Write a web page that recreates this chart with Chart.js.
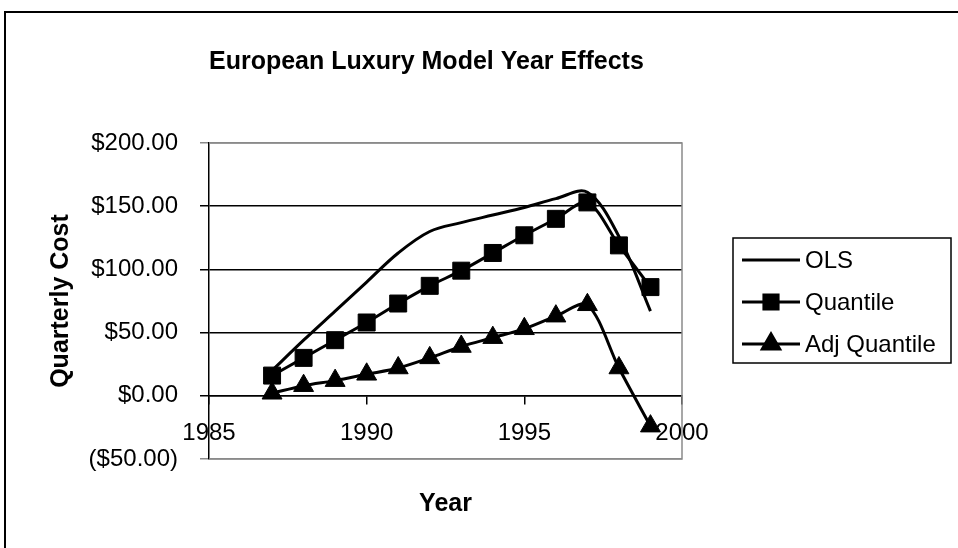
<!DOCTYPE html>
<html>
<head>
<meta charset="utf-8">
<script src="https://cdn.jsdelivr.net/npm/chart.js@4/dist/chart.umd.min.js"></script>
<style>
  html, body { margin: 0; padding: 0; background: #fff; }
  #wrap { width: 958px; height: 548px; }
</style>
</head>
<body>
<div id="wrap"><canvas id="myChart" width="958" height="548"></canvas></div>
<script>
const FONT = "Arial, 'Liberation Sans', sans-serif";

const years = [1987, 1988, 1989, 1990, 1991, 1992, 1993, 1994, 1995, 1996, 1997, 1998, 1999];
const olsCost = [20, 44, 67, 90, 113, 130, 137, 143, 149, 156, 161, 126, 67];
const quantileCost = [16, 30, 44, 58, 73, 87, 99, 113, 127, 140, 153, 119, 86];
const adjQuantileCost = [2, 8, 12, 17, 22, 30, 39, 46, 53, 63, 72, 22, -24];
const yearTicks = [1985, 1990, 1995, 2000];
const costTicks = [-50, 0, 50, 100, 150, 200];

const toPoints = (vals) => vals.map((v, i) => ({ x: years[i], y: v }));

// outer frame + grey plot border
const framePlugin = {
  id: "frame",
  beforeDraw(chart) {
    const c = chart.ctx;
    c.save();
    c.fillStyle = "#fff";
    c.fillRect(0, 0, chart.width, chart.height);
    c.strokeStyle = "#000";
    c.lineWidth = 2;
    c.strokeRect(5, 12, chart.width + 20, chart.height + 20);
    c.restore();
  },
  beforeDatasetsDraw(chart) {
    const a = chart.chartArea;
    const c = chart.ctx;
    c.save();
    c.strokeStyle = "#8a8a8a";
    c.lineWidth = 1.5;
    c.beginPath();
    c.moveTo(a.left, a.top);
    c.lineTo(a.right, a.top);
    c.lineTo(a.right, a.bottom);
    c.lineTo(a.left, a.bottom);
    c.stroke();
    c.restore();
  },
};

// boxed legend with line + marker samples
const boxLegend = {
  id: "boxLegend",
  afterDraw(chart) {
    const c = chart.ctx;
    const x = 733, y = 238, w = 218, h = 125;
    c.save();
    c.strokeStyle = "#000";
    c.lineWidth = 1.5;
    c.strokeRect(x, y, w, h);
    chart.data.datasets.forEach((ds, i) => {
      const cy = 260 + i * 42;
      c.strokeStyle = "#000";
      c.lineWidth = 3;
      c.beginPath();
      c.moveTo(742, cy);
      c.lineTo(800, cy);
      c.stroke();
      if (ds.pointRadius > 0) {
        Chart.helpers.drawPoint(c, { pointStyle: ds.pointStyle, radius: 10, borderWidth: 1 }, 771, cy);
        c.fillStyle = "#000";
        c.fill();
      }
      c.fillStyle = "#000";
      c.font = "24px " + FONT;
      c.textBaseline = "middle";
      c.textAlign = "left";
      c.fillText(ds.label, 805, cy + 1);
    });
    c.restore();
  },
};

const ctx = document.getElementById("myChart");
new Chart(ctx, {
  type: "line",
  data: {
    datasets: [
      {
        label: "OLS",
        data: toPoints(olsCost),
        borderColor: "#000",
        borderWidth: 3,
        pointRadius: 0,
        tension: 0.35,
      },
      {
        label: "Quantile",
        data: toPoints(quantileCost),
        borderColor: "#000",
        backgroundColor: "#000",
        borderWidth: 3,
        pointStyle: "rect",
        pointRadius: 12,
        pointBorderWidth: 1,
        tension: 0.3,
      },
      {
        label: "Adj Quantile",
        data: toPoints(adjQuantileCost),
        borderColor: "#000",
        backgroundColor: "#000",
        borderWidth: 3,
        pointStyle: "triangle",
        pointRadius: 11.5,
        pointBorderWidth: 1,
        tension: 0.3,
      },
    ],
  },
  options: {
    responsive: false,
    animation: false,
    layout: { padding: { left: 41, right: 276, top: 0, bottom: 89 } },
    scales: {
      x: {
        type: "linear",
        position: { y: 0 },
        min: 1985,
        max: 2000,
        afterBuildTicks: (s) => { s.ticks = yearTicks.map((v) => ({ value: v })); },
        ticks: {
          padding: 15,
          color: "#000",
          font: { family: FONT, size: 24 },
          maxRotation: 0,
          callback: (v) => String(v),
        },
        grid: { drawOnChartArea: false, drawTicks: true, tickLength: 8, color: "#000", lineWidth: 1.5 },
        border: { display: true, color: "#000", width: 1.5 },
        title: {
          display: true,
          text: "Year",
          color: "#000",
          font: { family: FONT, size: 25, weight: "bold" },
          padding: { top: 27, bottom: 0 },
        },
      },
      y: {
        min: -50,
        max: 200,
        afterBuildTicks: (s) => { s.ticks = costTicks.map((v) => ({ value: v })); },
        afterFit: (s) => { s.width = 168; },
        ticks: {
          padding: 22,
          color: "#000",
          font: { family: FONT, size: 24 },
          callback: (v) => (v < 0 ? "($" + Math.abs(v).toFixed(2) + ")" : "$" + v.toFixed(2)),
        },
        grid: {
          tickLength: 9,
          lineWidth: 1.5,
          color: (c) => (c.tick && (c.tick.value === 200 || c.tick.value === -50) ? "#8a8a8a" : "#000"),
        },
        border: { display: true, color: "#000", width: 1.5 },
        title: {
          display: true,
          text: "Quarterly Cost",
          color: "#000",
          font: { family: FONT, size: 25, weight: "bold" },
          padding: { top: 5, bottom: 0 },
        },
      },
    },
    plugins: {
      legend: { display: false },
      tooltip: { enabled: false },
      title: {
        display: true,
        text: "European Luxury Model Year Effects",
        align: "start",
        fullSize: false,
        color: "#000",
        font: { family: FONT, size: 25, weight: "bold" },
        padding: { top: 47, bottom: 66 },
      },
    },
  },
  plugins: [framePlugin, boxLegend],
});
</script>
</body>
</html>
